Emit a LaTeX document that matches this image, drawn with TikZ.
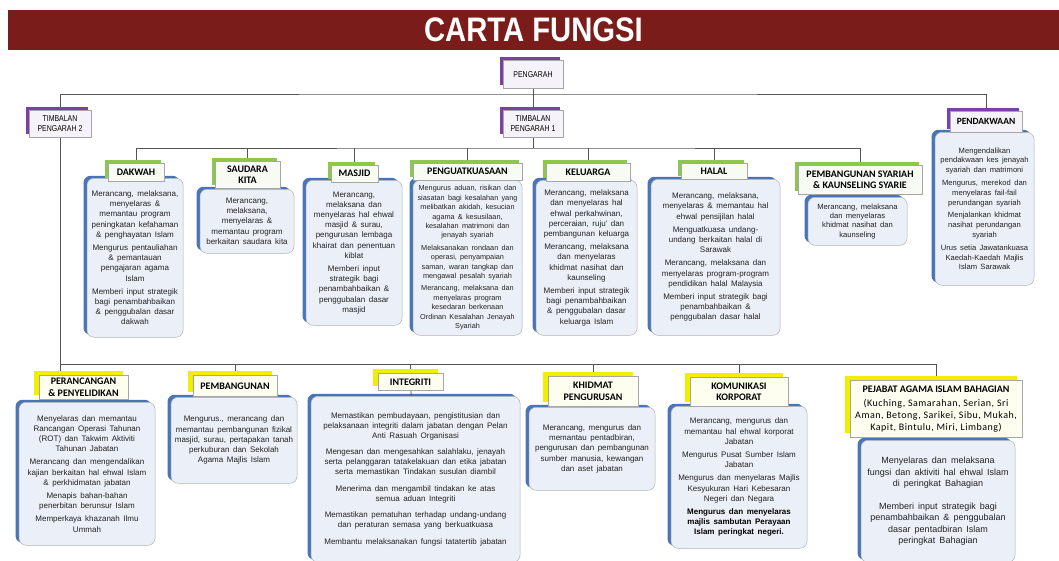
\documentclass[tikz,border=0pt]{standalone}
\usepackage{fontspec}
\setmainfont{Liberation Sans}
\newfontfamily\bodyfont{Liberation Sans}[WordSpace=1.6]
\newfontfamily\headfont{Carlito}
\newfontfamily\listfont{Carlito}[LetterSpace=5]
\newfontfamily\narrowfont{Liberation Sans}[FakeStretch=0.82]
\newfontfamily\titlefont{Liberation Sans}[FakeStretch=0.86]
\usetikzlibrary{shadows}

\definecolor{maroon}{HTML}{7A1C1A}
\definecolor{purpleedge}{HTML}{7B3FA6}
\definecolor{greenedge}{HTML}{8CC850}
\definecolor{yellowedge}{HTML}{F2EE00}
\definecolor{blueedge}{HTML}{4A74B8}
\definecolor{bodyfill}{HTML}{EBEFF7}
\definecolor{linegray}{HTML}{555555}
\definecolor{textgray}{HTML}{222222}

\newcommand{\pgap}{\\[3pt]}

\begin{document}
\begin{tikzpicture}[x=1pt, y=-1pt,
  sz/.style 2 args={minimum width=#1pt, minimum height=#2pt},
  banner/.style={fill=maroon, text=white, inner sep=0pt,
                 font=\titlefont\bfseries\fontsize{34}{34}\selectfont},
  hbox/.style={draw=gray!70, line width=0.5pt, anchor=north, align=center,
               inner sep=1pt, text=black, font=\headfont\bfseries\fontsize{10}{11.5}\selectfont},
  phead/.style={hbox, fill=purpleedge!7,
                general shadow={fill=purpleedge, shadow xshift=-3pt, shadow yshift=3pt}},
  ghead/.style={hbox, fill=greenedge!7,
                general shadow={fill=greenedge, shadow xshift=-3pt, shadow yshift=3pt}},
  yhead/.style={hbox, fill=yellowedge!6,
                general shadow={fill=yellowedge, shadow xshift=-5pt, shadow yshift=4pt}},
  body/.style={draw=gray!60, line width=0.5pt, fill=bodyfill, rounded corners=7pt,
               anchor=north, align=center, inner sep=2pt, text=textgray,
               font=\bodyfont\fontsize{8}{10.2}\selectfont,
               general shadow={fill=blueedge, shadow xshift=-3.5pt, shadow yshift=2.5pt}},
  line/.style={draw=linegray, line width=0.8pt},
]
  \useasboundingbox (0,0) rectangle (1059,560);
  \clip (0,0) rectangle (1059,560);
  \fill[white] (0,0) rectangle (1059,560);

  % title bar
  \node[banner, sz={1051}{40}] (title) at (533.5,30) {CARTA FUNGSI};

  % top of the chart
  \node[phead, sz={60}{28}, font=\narrowfont\fontsize{8.5}{10}\selectfont] (pengarah) at (533,60) {PENGARAH};
  \node[phead, sz={60}{27}, font=\narrowfont\fontsize{8.5}{10}\selectfont] (tp1) at (533,110) {TIMBALAN\\PENGARAH 1};
  \node[phead, sz={62}{27}, font=\narrowfont\fontsize{8.5}{10}\selectfont] (tp2) at (60,110) {TIMBALAN\\PENGARAH 2};

  % first row, under timbalan pengarah 1
  \node[body, sz={96}{159}] (dakwahB) at (135,178)
    {Merancang, melaksana,\\ menyelaras \&\\ memantau program\\ peningkatan kefahaman\\ \& penghayatan Islam\pgap
     Mengurus pentauliahan\\ \& pemantauan\\ pengajaran agama\\ Islam\pgap
     Memberi input strategik\\ bagi penambahbaikan\\ \& penggubalan dasar\\ dakwah};
  \node[body, sz={94}{64}] (saudaraB) at (247,189)
    {Merancang,\\ melaksana,\\ menyelaras \&\\ memantau program\\ berkaitan saudara kita};
  \node[body, sz={96}{145}] (masjidB) at (354,180)
    {Merancang,\\ melaksana dan\\ menyelaras hal ehwal\\ masjid \& surau,\\ pengurusan lembaga\\ khairat dan penentuan\\ kiblat\pgap
     Memberi input\\ strategik bagi\\ penambahbaikan \&\\ penggubalan dasar\\ masjid};
  \node[body, sz={109}{155}, font=\bodyfont\fontsize{7.3}{9.4}\selectfont] (pengB) at (467.5,180)
    {Mengurus aduan, risikan dan\\ siasatan bagi kesalahan yang\\ melibatkan akidah, kesucian\\ agama \& kesusilaan,\\ kesalahan matrimoni dan\\ jenayah syariah\pgap
     Melaksanakan rondaan dan\\ operasi, penyampaian\\ saman, waran tangkap dan\\ mengawal pesalah syariah\pgap
     Merancang, melaksana dan\\ menyelaras program\\ kesedaran berkenaan\\ Ordinan Kesalahan Jenayah\\ Syariah};
  \node[body, sz={101}{155}] (keluargaB) at (586.5,180)
    {Merancang, melaksana\\ dan menyelaras hal\\ ehwal perkahwinan,\\ perceraian, ruju' dan\\ pembangunan keluarga\pgap
     Merancang, melaksana\\ dan menyelaras\\ khidmat nasihat dan\\ kaunseling\pgap
     Memberi input strategik\\ bagi penambahbaikan\\ \& penggubalan dasar\\ keluarga Islam};
  \node[body, sz={129}{156}] (halalB) at (715.5,179)
    {Merancang, melaksana,\\ menyelaras \& memantau hal\\ ehwal pensijilan halal\pgap
     Menguatkuasa undang-\\undang berkaitan halal di\\ Sarawak\pgap
     Merancang, melaksana dan\\ menyelaras program-program\\ pendidikan halal Malaysia\pgap
     Memberi input strategik bagi\\ penambahbaikan \&\\ penggubalan dasar halal};
  \node[body, sz={99}{48}, font=\bodyfont\fontsize{7.6}{9.4}\selectfont] (syariahB) at (857.5,197)
    {Merancang, melaksana\\ dan menyelaras\\ khidmat nasihat dan\\ kaunseling};
  \node[body, sz={99}{153}, font=\bodyfont\fontsize{7.6}{9.8}\selectfont] (pendB) at (984.5,132)
    {Mengendalikan\\ pendakwaan kes jenayah\\ syariah dan matrimoni\pgap
     Mengurus, merekod dan\\ menyelaras fail-fail\\ perundangan syariah\pgap
     Menjalankan khidmat\\ nasihat perundangan\\ syariah\pgap
     Urus setia Jawatankuasa\\ Kaedah-Kaedah Majlis\\ Islam Sarawak};

  \node[ghead, sz={56}{18}] (dakwahH) at (136,163) {DAKWAH};
  \node[ghead, sz={65}{27}] (saudaraH) at (247.5,161) {SAUDARA\\KITA};
  \node[ghead, sz={47}{17}] (masjidH) at (354.5,165) {MASJID};
  \node[ghead, sz={109}{17}] (pengH) at (467.5,163) {PENGUATKUASAAN};
  \node[ghead, sz={84}{18}] (keluargaH) at (588,163) {KELUARGA};
  \node[ghead, sz={66}{16}] (halalH) at (714,163) {HALAL};
  \node[ghead, sz={124}{29}] (syariahH) at (860,165) {PEMBANGUNAN SYARIAH\\\& KAUNSELING SYARIE};
  \node[phead, sz={72}{21}, font=\headfont\bfseries\fontsize{9.5}{11}\selectfont] (pendH) at (986,111) {PENDAKWAAN};

  % second row, under timbalan pengarah 2
  \node[body, sz={136}{143}] (perancB) at (87,402)
    {Menyelaras dan memantau\\ Rancangan Operasi Tahunan\\ (ROT) dan Takwim Aktiviti\\ Tahunan Jabatan\pgap
     Merancang dan mengendalikan\\ kajian berkaitan hal ehwal Islam\\ \& perkhidmatan jabatan\pgap
     Menapis bahan-bahan\\ penerbitan berunsur Islam\pgap
     Memperkaya khazanah Ilmu\\ Ummah};
  \node[body, sz={126}{86}] (pembB) at (234,397)
    {Mengurus., merancang dan\\ memantau pembangunan fizikal\\ masjid, surau, pertapakan tanah\\ perkuburan dan Sekolah\\ Agama Majlis Islam};
  \node[body, sz={209}{166}, font=\bodyfont\fontsize{8}{10}\selectfont] (integB) at (415.5,396)
    {Memastikan pembudayaan, pengistitusian dan\\ pelaksanaan integriti dalam jabatan dengan Pelan\\ Anti Rasuah Organisasi\\[6.5pt]
     Mengesan dan mengesahkan salahlaku, jenayah\\ serta pelanggaran tatakelakuan dan etika jabatan\\ serta memastikan Tindakan susulan diambil\\[6.5pt]
     Menerima dan mengambil tindakan ke atas\\ semua aduan Integriti\\[6.5pt]
     Memastikan pematuhan terhadap undang-undang\\ dan peraturan semasa yang berkuatkuasa\\[6.5pt]
     Membantu melaksanakan fungsi tatatertib jabatan};
  \node[body, sz={126}{83}] (khidB) at (592,407)
    {Merancang, mengurus dan\\ memantau pentadbiran,\\ pengurusan dan pembangunan\\ sumber manusia, kewangan\\ dan aset jabatan};
  \node[body, sz={136}{142}] (komB) at (739,406)
    {Merancang, mengurus dan\\ memantau hal ehwal korporat\\ Jabatan\pgap
     Mengurus Pusat Sumber Islam\\ Jabatan\pgap
     Mengurus dan menyelaras Majlis\\ Kesyukuran Hari Kebesaran\\ Negeri dan Negara\pgap
     {\bfseries\color{black}Mengurus dan menyelaras}\\ {\bfseries\color{black}majlis sambutan Perayaan}\\ {\bfseries\color{black}Islam peringkat negeri.}};
  \node[body, sz={154}{122}, font=\bodyfont\fontsize{9}{11.5}\selectfont] (pejabatB) at (938,440)
    {Menyelaras dan melaksana\\ fungsi dan aktiviti hal ehwal Islam\\ di peringkat Bahagian\\[11pt]
     Memberi input strategik bagi\\ penambahbaikan \& penggubalan\\ dasar pentadbiran Islam\\ peringkat Bahagian};

  \node[yhead, sz={89}{24}] (perancH) at (83.5,375) {PERANCANGAN\\\& PENYELIDIKAN};
  \node[yhead, sz={84}{21}] (pembH) at (235,375) {PEMBANGUNAN};
  \node[yhead, sz={65}{17}] (integH) at (410.5,373) {INTEGRITI};
  \node[yhead, sz={90}{30}] (khidH) at (593,376) {KHIDMAT\\PENGURUSAN};
  \node[yhead, sz={98}{29}] (komH) at (739,377) {KOMUNIKASI\\KORPORAT};
  \node[yhead, sz={172}{57}, font=\listfont\fontsize{10}{12}\selectfont] (pejabatH) at (936,380)
    {{\headfont\bfseries PEJABAT AGAMA ISLAM BAHAGIAN}\\[2pt]
     (Kuching, Samarahan, Serian, Sri\\ Aman, Betong, Sarikei, Sibu, Mukah,\\ Kapit, Bintulu, Miri, Limbang)};

  % connectors
  \coordinate (topbus) at (533,94);
  \coordinate (bus1) at (533,148);
  \coordinate (bus2) at (500,364);
  \draw[line, shorten >=3pt] (pengarah) -- (tp1);
  \draw[line, shorten <=3pt, shorten >=3pt] (tp2.north) |- (topbus) -| (pendH.north);
  \draw[line] (tp1) -- (bus1);
  \draw[line, shorten <=3pt, shorten >=3pt] (dakwahH.north) |- (bus1) -| (syariahH.north);
  \foreach \h in {saudaraH,masjidH,pengH,keluargaH,halalH}
    \draw[line, shorten <=3pt] (\h.north) -- (\h.north |- bus1);
  \draw[line, shorten >=4pt] (tp2) -- (tp2.south |- perancH.north);
  \draw[line, shorten >=4pt] (tp2.south |- bus2) -| (pejabatH.north);
  \foreach \h in {pembH,integH,khidH,komH}
    \draw[line, shorten <=4pt] (\h.north) -- (\h.north |- bus2);
  \draw[line] (integH) -- (integB);
\end{tikzpicture}
\end{document}
